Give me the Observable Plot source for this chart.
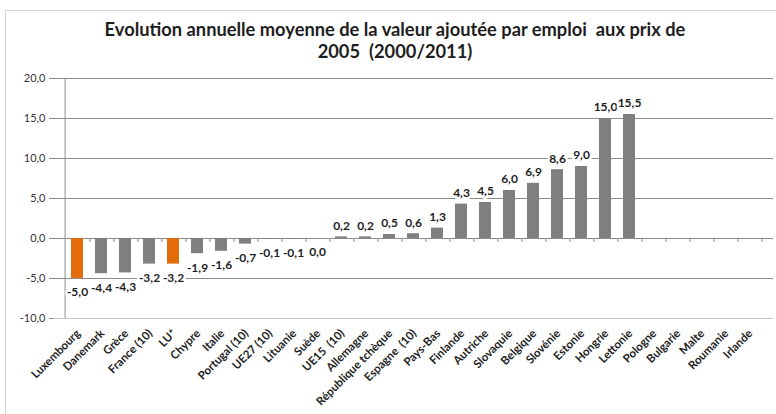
<!DOCTYPE html>
<html><head><meta charset="utf-8">
<script src="https://cdn.jsdelivr.net/npm/d3@7"></script>
<script src="https://cdn.jsdelivr.net/npm/@observablehq/plot@0.6"></script>
<style>
body{margin:0;background:#fff;}
#wrap{position:relative;width:776px;height:414px;overflow:hidden;font-family:Lato,"Open Sans",sans-serif;}
#frame{position:absolute;left:5px;top:10px;width:800px;height:500px;border:1px solid #d4d4d4;}
#title{position:absolute;left:0;width:790px;top:18px;text-align:center;font-weight:bold;font-size:18.3px;line-height:22px;color:#1e1e1e;}
#chart{position:absolute;left:0;top:0;}
</style></head>
<body><div id="wrap"><div id="frame"></div><div id="chart"></div><div id="title">Evolution annuelle moyenne de la valeur ajoutée par emploi&nbsp; aux prix de<br>2005&nbsp; (2000/2011)</div></div>
<script>
const categories = ["Luxembourg","Danemark","Grèce","France (10)","LU*","Chypre","Italie","Portugal (10)","UE27 (10)","Lituanie","Suède","UE15  (10)","Allemagne","République tchèque","Espagne  (10)","Pays-Bas","Finlande","Autriche","Slovaquie","Belgique","Slovénie","Estonie","Hongrie","Lettonie","Pologne","Bulgarie","Malte","Roumanie","Irlande"];
const values = [-5.0,-4.4,-4.3,-3.2,-3.2,-1.9,-1.6,-0.7,-0.1,-0.1,0.0,0.2,0.2,0.5,0.6,1.3,4.3,4.5,6.0,6.9,8.6,9.0,15.0,15.5,null,null,null,null,null];
const highlighted = ["Luxembourg","LU*"];
const yTicks = [-10,-5,0,5,10,15,20];

const data = categories.map((c,i)=>({country:c, value:values[i]}));
const shown = data.filter(d=>d.value!=null);
const fmt = v => v.toFixed(1).replace(".", ",");
const W = 776, H = 414, ML = 53, MR = 3, MT = 78, MB = 96;
const step = (W-ML-MR)/categories.length;
const grid = "#8c8c8c";

const plot = Plot.plot({
  width:W, height:H, marginLeft:ML, marginRight:MR, marginTop:MT, marginBottom:MB,
  style:{fontFamily:"Lato, 'Open Sans', sans-serif", background:"transparent", overflow:"visible"},
  x:{domain:categories, type:"band", paddingInner:0.5, paddingOuter:0.25},
  y:{domain:[-10,20]},
  marks:[
    Plot.gridY(yTicks.filter(t=>t!==-10), {stroke:grid, strokeOpacity:1}),
    Plot.gridY([-10], {stroke:"#c8c8c8", strokeOpacity:1}),
    Plot.axisY(yTicks, {tickFormat:fmt, tickSize:4, stroke:grid, fontSize:11, tickPadding:4, fill:"#333", label:null}),
    Plot.ruleX([categories[0]], {dx:-step/2, y1:-10, y2:20, stroke:grid}),
    Plot.ruleX(categories, {dx:step/2, y1:0, y2:-0.5, stroke:grid}),
    Plot.barY(shown.filter(d=>!highlighted.includes(d.country)), {x:"country", y:"value", fill:"#808080"}),
    Plot.barY(shown.filter(d=>highlighted.includes(d.country)), {x:"country", y:"value", fill:"#E36C0A"}),
    Plot.text(shown.filter(d=>d.value>0), {x:"country", y:"value", text:d=>fmt(d.value), dy:-11, fontWeight:"bold", fontSize:12, fill:"#1e1e1e", stroke:"white", strokeWidth:5}),
    Plot.text(shown.filter(d=>d.value<=0), {x:"country", y:"value", text:d=>fmt(d.value), dy:14, fontWeight:"bold", fontSize:12, fill:"#1e1e1e", stroke:"white", strokeWidth:5}),
    Plot.axisX({tickRotate:-45, tickSize:0, tickPadding:13, dx:1, fontWeight:"bold", fontSize:11.5, fill:"#1e1e1e", label:null})
  ]
});
document.getElementById("chart").appendChild(plot);
</script>
</body></html>
